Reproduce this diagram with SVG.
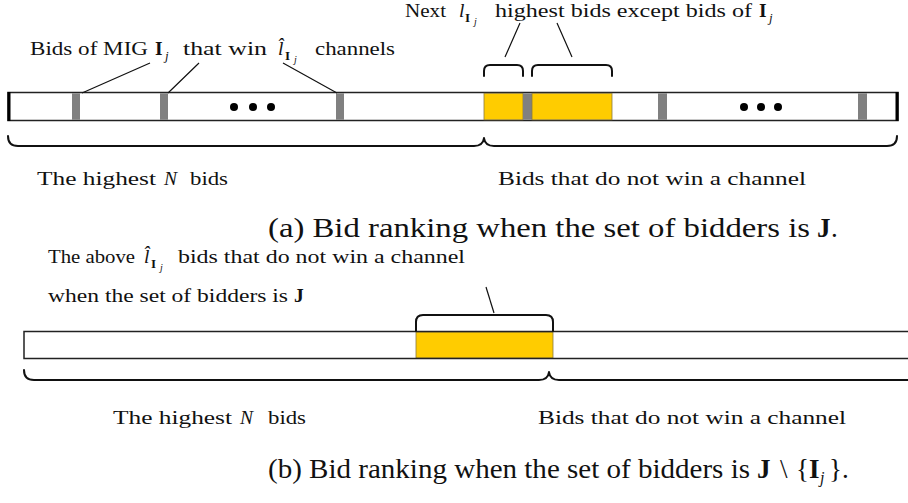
<svg xmlns="http://www.w3.org/2000/svg" width="908" height="503" viewBox="0 0 908 503">
  <defs>
    <style>
      .t { font-family: "Liberation Serif", "Times New Roman", serif; fill: #111; }
      .lb { font-size: 19.5px; }
      .cap { font-size: 27px; }
      .sub { font-size: 13px; }
      .csub { font-size: 16px; }
      .ssub { font-size: 10px; }
      .it { font-style: italic; }
      .bf { font-weight: bold; }
      .bar { fill: #fff; stroke: #222; stroke-width: 1.5; }
      .slot { fill: #808080; }
      .gold { fill: #ffcc00; stroke: #8a7a40; stroke-width: 0.8; }
      .dot { fill: #000; }
      .brace { fill: none; stroke: #111; stroke-width: 2; stroke-linecap: round; stroke-linejoin: round; }
      .lead { fill: none; stroke: #111; stroke-width: 1.2; }
    </style>
  </defs>
  <rect width="908" height="503" fill="#fff"/>

  <!-- (a) ranking strip with all bidders -->
  <g id="strip-a">
    <rect class="bar" x="8" y="92.5" width="890" height="28"/>
    <rect class="slot" x="72" y="93.3" width="8" height="26.5"/>
    <rect class="slot" x="160" y="93.3" width="8" height="26.5"/>
    <rect class="slot" x="336" y="93.3" width="8" height="26.5"/>
    <rect class="gold" x="484" y="93.3" width="39" height="26.5"/>
    <rect class="slot" x="523" y="93.3" width="9" height="26.5"/>
    <rect class="gold" x="532" y="93.3" width="80" height="26.5"/>
    <rect class="slot" x="658" y="93.3" width="9" height="26.5"/>
    <rect class="slot" x="858" y="93.3" width="9" height="26.5"/>
    <rect x="7.5" y="92" width="3" height="29" fill="#000"/>
    <rect x="895.5" y="92" width="3" height="29" fill="#000"/>
    <circle class="dot" cx="234" cy="107" r="4"/>
    <circle class="dot" cx="253" cy="107" r="4"/>
    <circle class="dot" cx="271" cy="107" r="4"/>
    <circle class="dot" cx="744" cy="107" r="4"/>
    <circle class="dot" cx="761" cy="107" r="4"/>
    <circle class="dot" cx="778" cy="107" r="4"/>
  </g>

  <g id="label-next-bids">
    <text class="t lb" x="405" y="17" textLength="41" lengthAdjust="spacingAndGlyphs">Next</text>
    <text class="t lb it" x="459" y="17">l</text>
    <text class="t sub bf" x="465" y="22">I</text>
    <text class="t ssub it" x="474" y="25">j</text>
    <text class="t lb" x="495" y="17" textLength="257" lengthAdjust="spacingAndGlyphs">highest bids except bids of</text>
    <text class="t lb bf" x="759" y="17">I</text>
    <text class="t sub it" x="769" y="22">j</text>
  </g>

  <g id="label-mig-bids">
    <text class="t lb" x="30" y="55" textLength="118" lengthAdjust="spacingAndGlyphs">Bids of MIG</text>
    <text class="t lb bf" x="155" y="55">I</text>
    <text class="t sub it" x="165" y="60">j</text>
    <text class="t lb" x="183" y="55" textLength="84" lengthAdjust="spacingAndGlyphs">that win</text>
    <text class="t lb it" x="278" y="55">l̂</text>
    <text class="t sub bf" x="285" y="60">I</text>
    <text class="t ssub it" x="294" y="63">j</text>
    <text class="t lb" x="315" y="55" textLength="80" lengthAdjust="spacingAndGlyphs">channels</text>
  </g>

  <g id="label-highest-a">
    <text class="t lb" x="37" y="185" textLength="119" lengthAdjust="spacingAndGlyphs">The highest</text>
    <text class="t lb it" x="164" y="185">N</text>
    <text class="t lb" x="190" y="185" textLength="38" lengthAdjust="spacingAndGlyphs">bids</text>
  </g>
  <g id="label-losing-a">
    <text class="t lb" x="498" y="185" textLength="308" lengthAdjust="spacingAndGlyphs">Bids that do not win a channel</text>
  </g>

  <g id="caption-a">
    <text class="t cap" x="268" y="237" textLength="542" lengthAdjust="spacingAndGlyphs">(a) Bid ranking when the set of bidders is</text>
    <text class="t cap bf" x="817" y="237">J</text>
    <text class="t cap" x="831" y="237">.</text>
  </g>

  <!-- (b) ranking strip without the group -->
  <g id="label-above-bids">
    <text class="t lb" x="48" y="263" textLength="87" lengthAdjust="spacingAndGlyphs">The above</text>
    <text class="t lb it" x="144" y="263">l̂</text>
    <text class="t sub bf" x="151" y="268">I</text>
    <text class="t ssub it" x="160" y="271">j</text>
    <text class="t lb" x="178" y="263" textLength="287" lengthAdjust="spacingAndGlyphs">bids that do not win a channel</text>
    <text class="t lb" x="48" y="302" textLength="240" lengthAdjust="spacingAndGlyphs">when the set of bidders is</text>
    <text class="t lb bf" x="294" y="302">J</text>
  </g>

  <g id="strip-b">
    <rect x="24" y="331.5" width="890" height="27" fill="#fff"/>
    <rect class="gold" x="416" y="332" width="137" height="26"/>
    <path d="M908,331.5 H24 V358.5 H908" fill="none" stroke="#222" stroke-width="1.5"/>
  </g>

  <g id="label-highest-b">
    <text class="t lb" x="113" y="424" textLength="119" lengthAdjust="spacingAndGlyphs">The highest</text>
    <text class="t lb it" x="240" y="424">N</text>
    <text class="t lb" x="268" y="424" textLength="38" lengthAdjust="spacingAndGlyphs">bids</text>
  </g>
  <g id="label-losing-b">
    <text class="t lb" x="538" y="424" textLength="308" lengthAdjust="spacingAndGlyphs">Bids that do not win a channel</text>
  </g>

  <g id="caption-b">
    <text class="t cap" x="268" y="478" textLength="482" lengthAdjust="spacingAndGlyphs">(b) Bid ranking when the set of bidders is</text>
    <text class="t cap bf" x="757" y="478">J</text>
    <text class="t cap" x="780" y="478">\</text>
    <text class="t cap" x="796" y="478">{</text>
    <text class="t cap bf" x="809" y="478">I</text>
    <text class="t csub it" x="820" y="483">j</text>
    <text class="t cap" x="829" y="478">}.</text>
  </g>

  <g id="connectors">
    <!-- leaders to the MIG bids -->
    <path class="lead" d="M82,93 L150,63 M168,93 L199,63 M337,93 L283,63"/>
    <!-- leaders to the next highest bids -->
    <path class="lead" d="M505,57 L520,23 M572,57 L557,23"/>
    <path class="lead" d="M486,287 L494,313"/>
    <!-- small braces over the gold blocks -->
    <path class="brace" d="M484,76 V71 Q484,65 490,65 H517 Q523,65 523,71 V76"/>
    <path class="brace" d="M532,76 V71 Q532,65 538,65 H606 Q612,65 612,71 V76"/>
    <path class="brace" d="M416,331 V322 Q416,315 423,315 H546 Q553,315 553,322 V331"/>
    <!-- under-braces for (a) -->
    <path class="brace" d="M8,136 Q8,146 18,146 H474 Q483,146 484,138 Q485,146 494,146 H887 Q897,146 897,136"/>
    <!-- under-braces for (b) -->
    <path class="brace" d="M24,370 Q24,380 34,380 H539 Q548,380 549,372 Q550,380 559,380 H912"/>
  </g>
</svg>
